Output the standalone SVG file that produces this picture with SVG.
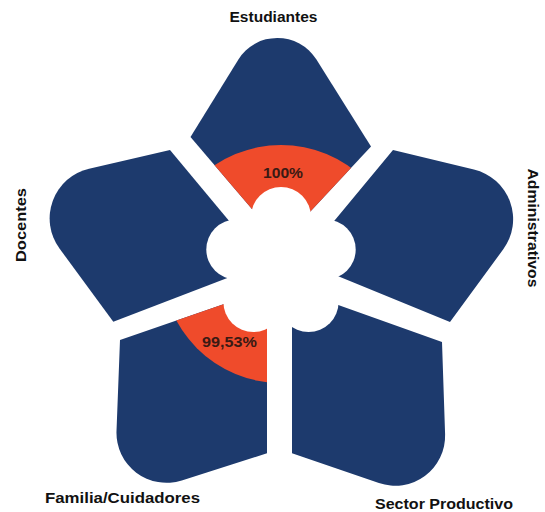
<svg xmlns="http://www.w3.org/2000/svg" width="545" height="512" viewBox="0 0 545 512">
<style>
.petal{fill:#1d3a6d}
.hit{fill:#ef4b2b}
.lbl{font-family:"Liberation Sans",Arial,sans-serif;font-weight:bold;font-size:15px;fill:#111;text-anchor:middle}
.pct{font-family:"Liberation Sans",Arial,sans-serif;font-weight:bold;font-size:14px;fill:#3a1a14;text-anchor:middle}
.hub{fill:#fff}
</style>
<defs>
<path id="pE" d="M281,243 L190.5,137 L238.4,59.4 A46,46 0 0 1 316.1,59.1 L371,146.5 Z"/>
<path id="pA" d="M301,261 L393,150 L473.9,169.5 A51,51 0 0 1 503.1,249.5 L450,322 Z"/>
<path id="pS" d="M292,288.6 L442,342 L445.1,434.2 A50,50 0 0 1 378.9,483.1 L292,453.3 Z"/>
<path id="pF" d="M267,289.3 L267,453.3 L181.8,480.4 A50,50 0 0 1 116.5,430.9 L120,340 Z"/>
<path id="pD" d="M264.6,263.6 L170,150 L89.1,168.7 A51,51 0 0 0 59.5,248.5 L113.3,321.7 Z"/>
<clipPath id="cE"><use href="#pE"/></clipPath>
<clipPath id="cF"><use href="#pF"/></clipPath>
</defs>
<rect width="545" height="512" fill="#fff"/>
<g id="estudiantes">
<use href="#pE" class="petal"/>
<circle cx="281" cy="264" r="119" class="hit" clip-path="url(#cE)"/>
<text class="lbl" x="273.5" y="22" textLength="88" lengthAdjust="spacingAndGlyphs">Estudiantes</text>
<text class="pct" x="283" y="178" textLength="40" lengthAdjust="spacingAndGlyphs">100%</text>
</g>
<g id="administrativos">
<use href="#pA" class="petal"/>
<text class="lbl" transform="translate(527.5,228) rotate(90)" textLength="119" lengthAdjust="spacingAndGlyphs">Administrativos</text>
</g>
<g id="sector-productivo">
<use href="#pS" class="petal"/>
<text class="lbl" x="444" y="509" textLength="138" lengthAdjust="spacingAndGlyphs">Sector Productivo</text>
</g>
<g id="familia-cuidadores">
<use href="#pF" class="petal"/>
<circle cx="281" cy="264" r="119" class="hit" clip-path="url(#cF)"/>
<text class="lbl" x="122.5" y="503" textLength="155" lengthAdjust="spacingAndGlyphs">Familia/Cuidadores</text>
<text class="pct" x="229.5" y="347" textLength="55" lengthAdjust="spacingAndGlyphs">99,53%</text>
</g>
<g id="docentes">
<use href="#pD" class="petal"/>
<text class="lbl" transform="translate(25.5,225) rotate(-90)" textLength="74" lengthAdjust="spacingAndGlyphs">Docentes</text>
</g>
<g id="hub">
<circle class="hub" cx="281" cy="264" r="46"/>
<circle class="hub" cx="281" cy="217" r="30"/>
<circle class="hub" cx="325.7" cy="249.5" r="30"/>
<circle class="hub" cx="308.6" cy="302" r="30"/>
<circle class="hub" cx="253.4" cy="302" r="30"/>
<circle class="hub" cx="236.3" cy="249.5" r="30"/>
</g>
</svg>
